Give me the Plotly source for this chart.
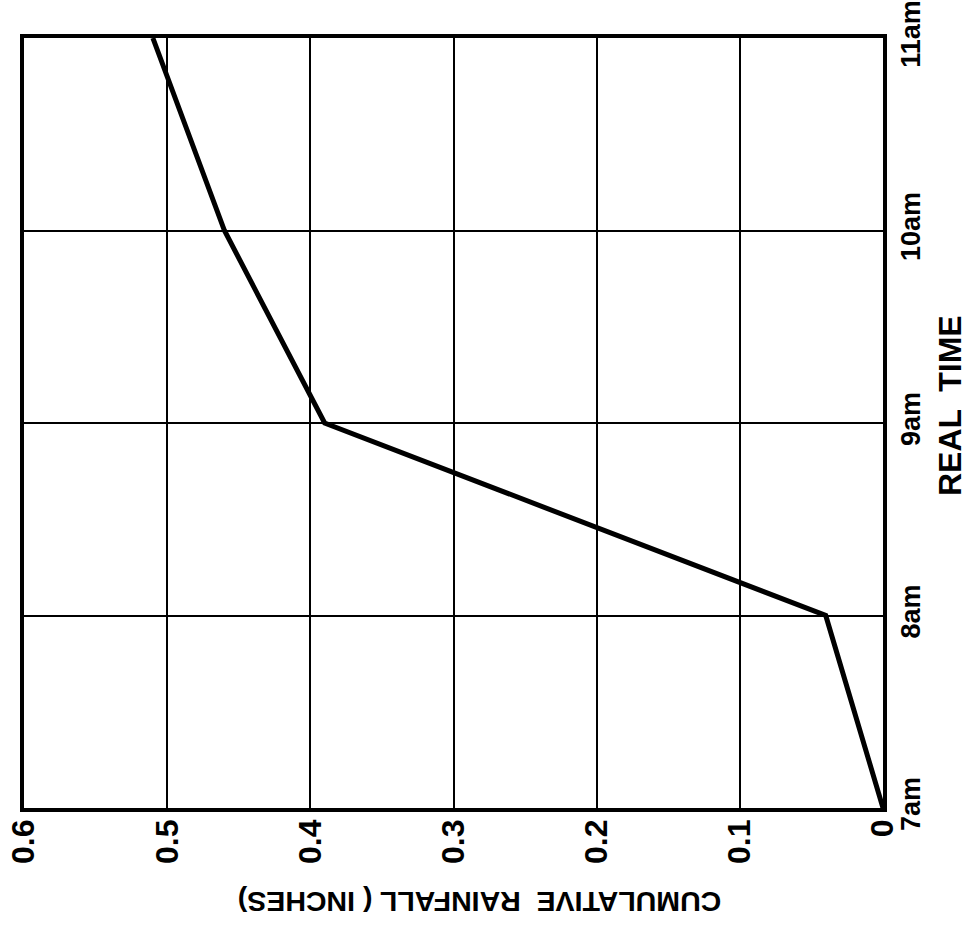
import plotly.graph_objects as go

# Data
time_hours = [7, 8, 9, 10, 11]
time_labels = ["7am", "8am", "9am", "10am", "11am"]
rainfall = [0.0, 0.04, 0.39, 0.46, 0.51]
rain_ticks = [0, 0.1, 0.2, 0.3, 0.4, 0.5, 0.6]
rain_tick_labels = ["0", "0.1", "0.2", "0.3", "0.4", "0.5", "0.6"]

FONT = "Liberation Sans"

fig = go.Figure()
fig.add_trace(go.Scatter(
    x=rainfall, y=time_hours, mode="lines",
    line=dict(color="black", width=5),
    showlegend=False, hoverinfo="skip",
))

fig.update_layout(
    width=969, height=937,
    margin=dict(l=24, r=86, t=38, b=129, autoexpand=False),
    paper_bgcolor="white", plot_bgcolor="white",
    font=dict(family=FONT, color="black"),
    xaxis=dict(
        range=[0.6, 0], tickvals=rain_ticks, ticktext=rain_tick_labels,
        tickangle=-90, tickfont=dict(size=32, family=FONT, color="black", weight="bold"),
        showgrid=True, gridcolor="black", gridwidth=2,
        zeroline=False, showline=True, linecolor="black", linewidth=3.5,
        mirror=True, ticks="", ticklabelstandoff=-5,
        ticklabeloverflow="allow", automargin=False,
    ),
    yaxis=dict(
        range=[7, 11], tickvals=time_hours, ticktext=time_labels,
        side="right", tickangle=-90,
        tickfont=dict(size=27, family=FONT, color="black", weight="bold"),
        showgrid=True, gridcolor="black", gridwidth=2,
        zeroline=False, showline=True, linecolor="black", linewidth=3.5,
        mirror=True, ticks="", ticklabelstandoff=1,
        ticklabeloverflow="allow", automargin=False,
    ),
    annotations=[
        dict(text="REAL  TIME", xref="paper", yref="paper",
             x=1.078, y=0.522, xanchor="center", yanchor="middle",
             textangle=-90, showarrow=False,
             font=dict(size=32, family=FONT, color="black", weight="bold")),
        dict(text="CUMULATIVE  RAINFALL ( INCHES)", xref="paper", yref="paper",
             x=0.531, y=-0.122, xanchor="center", yanchor="middle",
             textangle=180, showarrow=False,
             font=dict(size=28.5, family=FONT, color="black", weight="bold")),
    ],
)

fig.write_html("out.html")
